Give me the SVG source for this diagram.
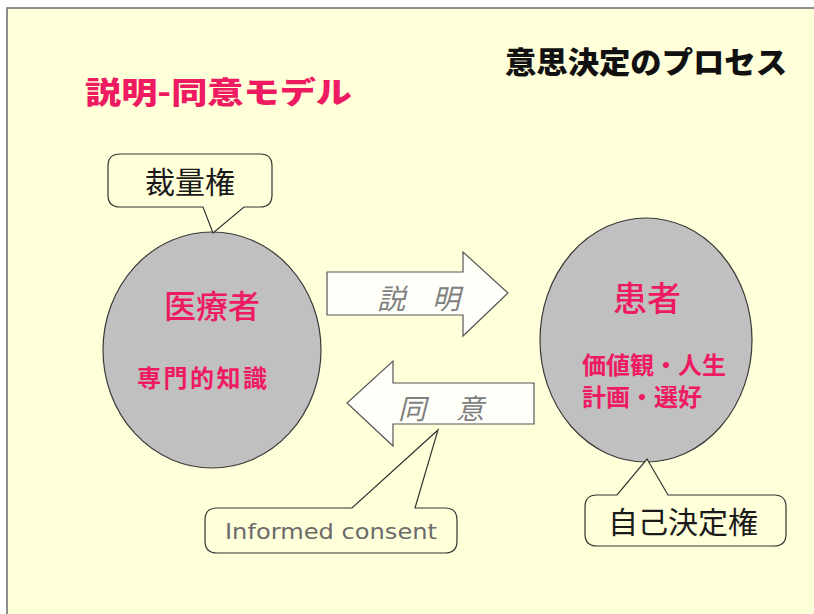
<svg xmlns="http://www.w3.org/2000/svg" width="814" height="614" viewBox="0 0 814 614">
<style>
.jp{font-family:"Noto Sans CJK JP","Noto Sans CJK SC",sans-serif;}
.pink{fill:#EE1A62;font-weight:bold;}
.med{font-weight:500;}
.node{fill:#C0C0C0;stroke:#3a3a3a;stroke-width:1.2;}
.callout{fill:#FFFFDA;stroke:#333;stroke-width:1.2;}
.arrow{fill:#FFFFFA;stroke:#555;stroke-width:1.2;}
.callt{fill:#1a1a1a;font-size:30px;}
.arrt{fill:#808080;font-size:28px;font-style:italic;}
</style>
<rect x="0" y="0" width="814" height="614" fill="#FFFFFF"/>
<rect x="7" y="8" width="830" height="630" fill="#FFFFDA" stroke="#6a6a6a" stroke-width="1.5"/>
<g id="titles">
<text class="jp" x="85" y="103" font-size="30" font-weight="900" fill="#EE1A62" textLength="267" lengthAdjust="spacingAndGlyphs">説明-同意モデル</text>
<text class="jp" x="505" y="73" font-size="30" font-weight="900" fill="#111" textLength="282" lengthAdjust="spacingAndGlyphs">意思決定のプロセス</text>
</g>
<g id="connectors">
<g id="arrow-explain">
<path class="arrow" d="M327,272 H463 V252 L508,293 L463,336 V315 H327 Z"/>
<text class="jp arrt" x="377" y="309">説</text>
<text class="jp arrt" x="432" y="309">明</text>
</g>
<g id="arrow-consent">
<path class="arrow" d="M534,383 H393 V361 L347,403 L393,446 V424 H534 Z"/>
<text class="jp arrt" x="398" y="419">同</text>
<text class="jp arrt" x="456" y="419">意</text>
</g>
</g>
<g id="node-provider">
<ellipse class="node" cx="212" cy="350" rx="109" ry="118"/>
<text class="jp pink med" x="212" y="318" font-size="32" text-anchor="middle">医療者</text>
<text class="jp pink" x="137" y="387" font-size="24" letter-spacing="2.5">専門的知識</text>
</g>
<g id="node-patient">
<ellipse class="node" cx="646" cy="340" rx="106" ry="122"/>
<text class="jp pink med" x="647" y="311" font-size="34" text-anchor="middle">患者</text>
<text class="jp pink" x="582" y="374" font-size="24">価値観・人生</text>
<text class="jp pink" x="582" y="406" font-size="24">計画・選好</text>
</g>
<g id="callout-discretion">
<path class="callout" d="M120,154 H260 Q272,154 272,166 V195 Q272,207 260,207 H244 L213,233 L203,207 H120 Q108,207 108,195 V166 Q108,154 120,154 Z"/>
<text class="jp callt" x="190" y="193" text-anchor="middle">裁量権</text>
</g>
<g id="callout-informed">
<path class="callout" d="M217,508 H352 L438,430 L415,508 H445 Q457,508 457,520 V541 Q457,553 445,553 H217 Q205,553 205,541 V520 Q205,508 217,508 Z"/>
<text x="225" y="539" font-family="'DejaVu Sans',sans-serif" font-size="22" fill="#6b6b6b" textLength="212" lengthAdjust="spacingAndGlyphs">Informed consent</text>
</g>
<g id="callout-autonomy">
<path class="callout" d="M597,495 H617 L647,459 L668,495 H774 Q786,495 786,507 V534 Q786,546 774,546 H597 Q585,546 585,534 V507 Q585,495 597,495 Z"/>
<text class="jp callt" x="608" y="533">自己決定権</text>
</g>
</svg>
